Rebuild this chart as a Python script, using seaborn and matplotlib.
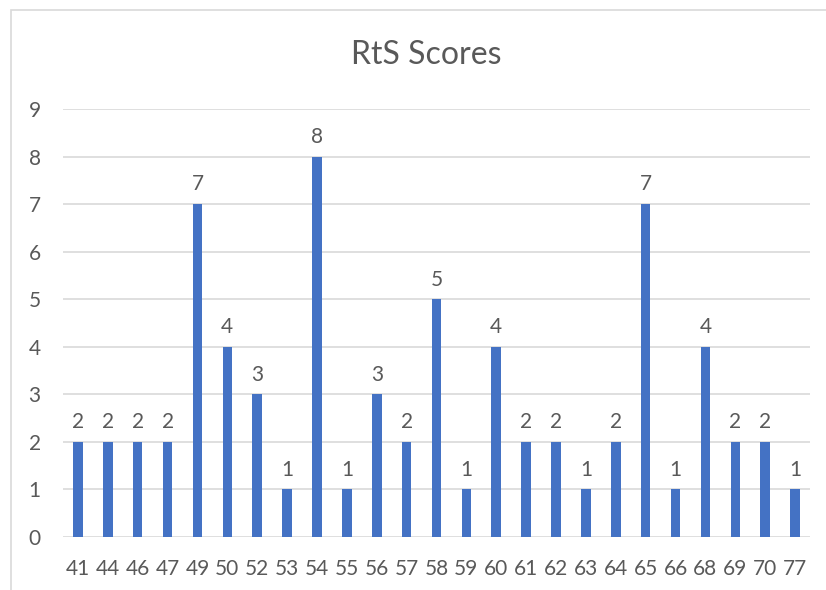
import matplotlib
matplotlib.use("Agg")
import seaborn as sns
from matplotlib import pyplot as plt
from matplotlib.patches import Rectangle

scores = ["41", "44", "46", "47", "49", "50", "52", "53", "54", "55", "56", "57", "58",
          "59", "60", "61", "62", "63", "64", "65", "66", "68", "69", "70", "77"]
counts = [2, 2, 2, 2, 7, 4, 3, 1, 8, 1, 3, 2, 5, 1, 4, 2, 2, 1, 2, 7, 1, 4, 2, 2, 1]
y_ticks = list(range(0, 10))

TEXT = "#595959"
GRID = "#D9D9D9"
BAR = "#4472C4"

sns.set_theme(style="white")
plt.rcParams["font.family"] = ["Lato", "DejaVu Sans"]

fig = plt.figure(figsize=(8.26, 5.90), dpi=100)
ax = fig.add_axes([63 / 826, 1 - 537 / 590, (810 - 63) / 826, (537 - 109) / 590])

# light frame around the chart area; only top and left edges fall inside the image
fig.patches.append(Rectangle((11 / 826, -0.05), 1.1, 1.05 - 10 / 590, transform=fig.transFigure,
                             fill=False, edgecolor=GRID, linewidth=1.2, zorder=0))

sns.barplot(x=scores, y=counts, color=BAR, saturation=1, width=0.32, ax=ax, zorder=3,
            edgecolor=BAR, linewidth=0)

for container in ax.containers:
    ax.bar_label(container, labels=[str(c) for c in counts], padding=7,
                 fontsize=15, color=TEXT)

ax.set_ylim(0, 9)
ax.set_xlim(-0.5, len(scores) - 0.5)
ax.set_yticks(y_ticks)
ax.yaxis.grid(True, color=GRID, linewidth=1.2, zorder=0)
ax.set_axisbelow(True)
for s in ax.spines.values():
    s.set_visible(False)
ax.tick_params(axis="both", length=0, labelsize=15, labelcolor=TEXT)
ax.tick_params(axis="y", pad=16)
ax.tick_params(axis="x", pad=16)

fig.text((350 + 502) / 2 / 826, 1 - 55 / 590, "RtS Scores", ha="center", va="center",
         fontsize=23, color=TEXT)

fig.savefig("out.png", dpi=100)
